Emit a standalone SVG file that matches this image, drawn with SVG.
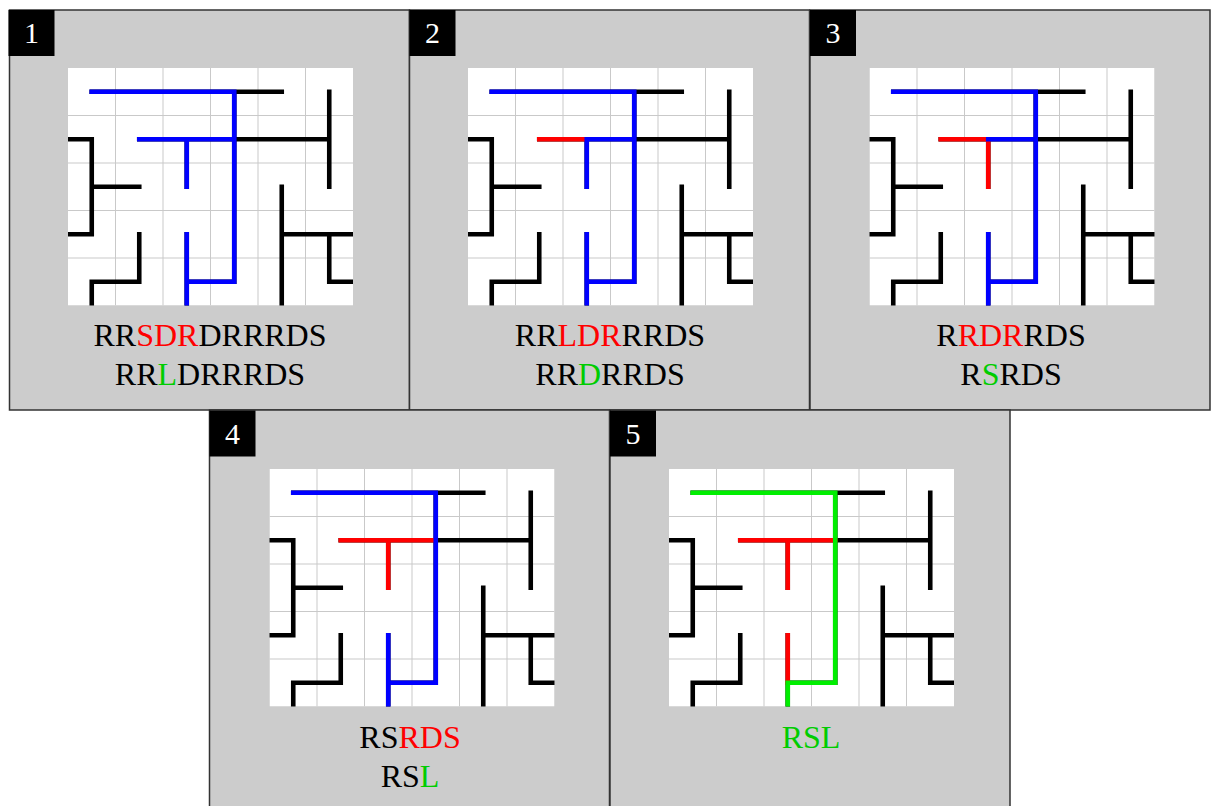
<svg xmlns="http://www.w3.org/2000/svg" xmlns:xlink="http://www.w3.org/1999/xlink" width="1218" height="806" viewBox="0 0 1218 806">
  <style>
    .panel { fill: #cccccc; stroke: #333333; stroke-width: 1.5; }
    .tag { fill: #000000; }
    .num { fill: #ffffff; font-family: "Liberation Serif", "Times New Roman", serif; font-size: 30px; text-anchor: middle; }
    .seq { fill: #000000; font-family: "Liberation Serif", "Times New Roman", serif; font-size: 32px; text-anchor: middle; }
    .grid { stroke: #c9c9c9; stroke-width: 1; fill: none; }
    .wall { stroke: #000000; }
    .w { fill: none; stroke-width: 4.6; stroke-linecap: square; stroke-linejoin: miter; }
    .blue { stroke: #0000ff; }
    .red { stroke: #ff0000; }
    .green { stroke: #00ee00; }
    .r { fill: #ff0000; }
    .g { fill: #00cc00; }
  </style>
  <defs>
    <clipPath id="mazeClip">
      <rect x="0" y="0" width="285" height="237.5"/>
    </clipPath>
    <!-- the bare maze: white field, light grid and black walls through cell centres -->
    <g id="maze">
      <rect x="0" y="0" width="285" height="237.5" fill="#ffffff"/>
      <path class="grid" d="M47.5 0V237.5M95 0V237.5M142.5 0V237.5M190 0V237.5M237.5 0V237.5M0 47.5H285M0 95H285M0 142.5H285M0 190H285"/>
      <path class="w wall" d="M23.75 23.75H213.75
        M166.25 23.75V213.75H118.75
        M118.75 166.25V240
        M71.25 71.25H261.25
        M118.75 71.25V118.75
        M261.25 23.75V118.75
        M-3 71.25H23.75V166.25H-3
        M23.75 118.75H71.25
        M71.25 166.25V213.75H23.75V240
        M213.75 118.75V240
        M213.75 166.25H288
        M261.25 166.25V213.75H288"/>
    </g>
  </defs>

  <!-- step 1 -->
  <g id="step1">
    <rect class="panel" x="9.5" y="10" width="400" height="400"/>
    <rect class="tag" x="8.5" y="10" width="46" height="46"/>
    <text class="num" x="31.5" y="43">1</text>
    <g transform="translate(68,68)">
      <g clip-path="url(#mazeClip)">
        <use xlink:href="#maze"/>
        <path class="w blue" d="M23.75 23.75H166.25V213.75H118.75M118.75 166.25V240M71.25 71.25H166.25M118.75 71.25V118.75"/>
      </g>
    </g>
    <text class="seq" x="210" y="346">RR<tspan class="r">SDR</tspan>DRRRDS</text>
    <text class="seq" x="210" y="385">RR<tspan class="g">L</tspan>DRRRDS</text>
  </g>

  <!-- step 2 -->
  <g id="step2">
    <rect class="panel" x="409.5" y="10" width="400" height="400"/>
    <rect class="tag" x="409.5" y="10" width="46" height="46"/>
    <text class="num" x="432.5" y="43">2</text>
    <g transform="translate(468,68)">
      <g clip-path="url(#mazeClip)">
        <use xlink:href="#maze"/>
        <path class="w red" d="M71.25 71.25H118.75"/>
        <path class="w blue" d="M23.75 23.75H166.25V213.75H118.75M118.75 166.25V240M118.75 118.75V71.25H166.25"/>
      </g>
    </g>
    <text class="seq" x="610" y="346">RR<tspan class="r">LDR</tspan>RRDS</text>
    <text class="seq" x="610" y="385">RR<tspan class="g">D</tspan>RRDS</text>
  </g>

  <!-- step 3 -->
  <g id="step3">
    <rect class="panel" x="810" y="10" width="400" height="400"/>
    <rect class="tag" x="810" y="10" width="46" height="46"/>
    <text class="num" x="833" y="43">3</text>
    <g transform="translate(869.5,68)">
      <g clip-path="url(#mazeClip)">
        <use xlink:href="#maze"/>
        <path class="w red" d="M71.25 71.25H118.75V118.75"/>
        <path class="w blue" d="M23.75 23.75H166.25V213.75H118.75M118.75 166.25V240M118.75 71.25H166.25"/>
      </g>
    </g>
    <text class="seq" x="1011" y="346">R<tspan class="r">RDR</tspan>RDS</text>
    <text class="seq" x="1011" y="385">R<tspan class="g">S</tspan>RDS</text>
  </g>

  <!-- step 4 -->
  <g id="step4">
    <rect class="panel" x="209.5" y="410" width="400" height="410"/>
    <rect class="tag" x="209.5" y="410.5" width="46" height="46"/>
    <text class="num" x="232.5" y="444">4</text>
    <g transform="translate(269.5,469)">
      <g clip-path="url(#mazeClip)">
        <use xlink:href="#maze"/>
        <path class="w red" d="M71.25 71.25H166.25M118.75 71.25V118.75"/>
        <path class="w blue" d="M23.75 23.75H166.25V213.75H118.75M118.75 166.25V240"/>
      </g>
    </g>
    <text class="seq" x="410" y="748">RS<tspan class="r">RDS</tspan></text>
    <text class="seq" x="410" y="787">RS<tspan class="g">L</tspan></text>
  </g>

  <!-- step 5 -->
  <g id="step5">
    <rect class="panel" x="610" y="410" width="400" height="410"/>
    <rect class="tag" x="610" y="410.5" width="46" height="46"/>
    <text class="num" x="633" y="444">5</text>
    <g transform="translate(669,469)">
      <g clip-path="url(#mazeClip)">
        <use xlink:href="#maze"/>
        <path class="w red" d="M71.25 71.25H166.25M118.75 71.25V118.75M118.75 166.25V213.75"/>
        <path class="w green" d="M23.75 23.75H166.25V213.75H118.75V240"/>
      </g>
    </g>
    <text class="seq g" x="811" y="748">RSL</text>
  </g>

  <!-- no connectors between the steps -->
  <g id="connectors"/>
</svg>
